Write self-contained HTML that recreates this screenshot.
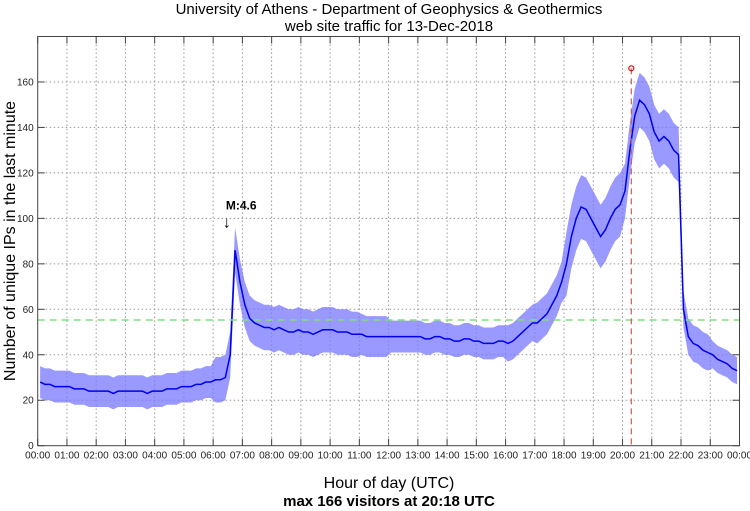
<!DOCTYPE html>
<html><head><meta charset="utf-8"><style>
body{margin:0;background:#fff}
svg{display:block;font-family:"Liberation Sans",sans-serif}
</style></head><body>
<svg id="chart" width="750" height="511" viewBox="0 0 750 511">
<text x="389" y="14" text-anchor="middle" font-size="15">University of Athens - Department of Geophysics &amp; Geothermics</text>
<text x="389" y="31" text-anchor="middle" font-size="15">web site traffic for 13-Dec-2018</text>
<text x="389" y="488" text-anchor="middle" font-size="16">Hour of day (UTC)</text>
<text x="389" y="506" text-anchor="middle" font-size="15" font-weight="bold">max 166 visitors at 20:18 UTC</text>
<text transform="translate(15,241) rotate(-90)" text-anchor="middle" font-size="16">Number of unique IPs in the last minute</text>
<g id="grid"></g>
<g id="series"></g>
<g id="axes"></g>
</svg>
<script>
const hourLabels=[];for(let h=0;h<=24;h++)hourLabels.push(String(h%24).padStart(2,'0')+":00");
const yTicks=[0,20,40,60,80,100,120,140,160];
// mean visitors per 10-minute bin (144 bins)
const meanValues=[
28,27,27,26,26,26, 26,25,25,25,24,24, 24,24,24,23,24,24, 24,24,24,24,23,24,
24,24,25,25,25,26, 26,26,27,27,28,28, 29,29,30,40,86,72, 62,56,54,53,52,52,
51,52,51,50,50,51, 50,50,49,50,51,51, 51,50,50,50,49,49, 49,48,48,48,48,48,
48,48,48,48,48,48, 48,47,47,48,48,47, 47,46,46,47,47,46, 46,45,45,45,46,46,
45,46,48,50,52,54, 54,56,58,62,66,72, 80,92,100,105,104,100, 96,92,95,100,104,106,
112,130,145,152,150,146, 138,134,136,134,130,128, 60,48,45,44,42,41, 40,38,37,36,34,33];
// spread (+/-) per hour
const spreadValues=[7,7,7,7,7,7,10,10,10,10,10,9,7,7,7,7,8,9,14,14,12,12,8,6];
const avgLine=55.3, peakValue=166, peakHour=20.3, quakeHour=6.47;

const L=37.7,R=739.5,T=36.5,B=445.7,YMAX=180;
const xs=h=>L+(R-L)*h/24, ys=v=>B-(B-T)*v/YMAX;
const NS="http://www.w3.org/2000/svg";
function mk(t,a,p){const e=document.createElementNS(NS,t);for(const k in a)e.setAttribute(k,a[k]);p.appendChild(e);return e;}
const grid=document.getElementById('grid'),ser=document.getElementById('series'),ax=document.getElementById('axes');
for(let h=1;h<24;h++){const l=mk('line',{x1:xs(h),x2:xs(h),y1:T,y2:B,stroke:'#999','stroke-dasharray':'1.5,2.5','stroke-width':1},grid);

}
yTicks.forEach(v=>{if(v===0)return;const l=mk('line',{x1:L,x2:R,y1:ys(v),y2:ys(v),stroke:'#999','stroke-dasharray':'1.5,2.5','stroke-width':1},grid);

});
let up=[],dn=[];
meanValues.forEach((m,i)=>{const h=(i+0.5)/6,s=spreadValues[Math.floor(i/6)];up.push(xs(h)+','+ys(m+s));dn.unshift(xs(h)+','+ys(Math.max(0,m-s)));});
const band=mk('polygon',{points:up.concat(dn).join(' '),fill:'#7777ff','fill-opacity':0.75},ser);


const line=mk('polyline',{points:meanValues.map((m,i)=>xs((i+0.5)/6)+','+ys(m)).join(' '),fill:'none',stroke:'#0000ee','stroke-width':1.5},ser);


const g=mk('line',{x1:L,x2:R,y1:ys(avgLine),y2:ys(avgLine),stroke:'#7be07b','stroke-width':1.5,'stroke-dasharray':'7,5'},ser);


const pv=mk('line',{x1:xs(peakHour),x2:xs(peakHour),y1:ys(peakValue),y2:B,stroke:'#c06060','stroke-width':1.2,'stroke-dasharray':'6,4'},ser);


const pc=mk('circle',{cx:xs(peakHour),cy:ys(peakValue),r:2.5,fill:'none',stroke:'#e00','stroke-width':1.2},ser);


const q=mk('text',{x:xs(quakeHour)-1,y:ys(104),'font-size':12,'font-weight':'bold'},ser);q.textContent='M:4.6';


const qa=mk('text',{x:xs(quakeHour),y:ys(96),'font-size':16,'text-anchor':'middle'},ser);qa.textContent='↓';


const fr=mk('rect',{x:L,y:T,width:R-L,height:B-T,fill:'none',stroke:'#444','stroke-width':1},ax);


hourLabels.forEach((t,h)=>{mk('line',{x1:xs(h),x2:xs(h),y1:B,y2:B-7,stroke:'#444'},ax);mk('line',{x1:xs(h),x2:xs(h),y1:T,y2:T+7,stroke:'#444'},ax);
const tx=mk('text',{x:xs(h),y:B+13,'font-size':10,'text-anchor':'middle',fill:'#222'},ax);tx.textContent=t;

});
yTicks.forEach(v=>{mk('line',{x1:L,x2:L+7,y1:ys(v),y2:ys(v),stroke:'#444'},ax);mk('line',{x1:R,x2:R-7,y1:ys(v),y2:ys(v),stroke:'#444'},ax);
const tx=mk('text',{x:L-4,y:ys(v)+3.5,'font-size':10,'text-anchor':'end',fill:'#222'},ax);tx.textContent=v;

});
</script>
</body></html>
